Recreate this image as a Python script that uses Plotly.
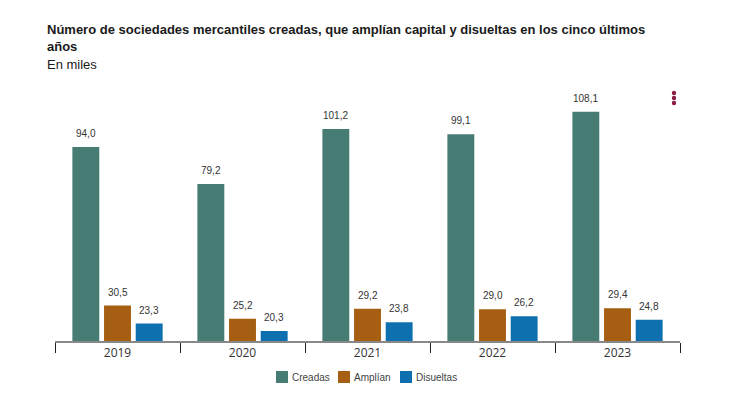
import plotly.graph_objects as go

years = ["2019", "2020", "2021", "2022", "2023"]
creadas = [94.0, 79.2, 101.2, 99.1, 108.1]
amplian = [30.5, 25.2, 29.2, 29.0, 29.4]
disueltas = [23.3, 20.3, 23.8, 26.2, 24.8]

series = [
    ("Creadas", creadas, "#477c74"),
    ("Amplían", amplian, "#a65e12"),
    ("Disueltas", disueltas, "#0f70b0"),
]

W, H = 732, 394
ML, MR, MT, MB = 47, 60, 87, 61
plot_w = W - ML - MR
# screen geometry (page has an 8px offset)
S_LEFT, S_TOP, S_BOT = ML + 8, MT + 8, H - MB + 8
phs = S_BOT - S_TOP

def px(xs):
    return (xs - S_LEFT) / plot_w

def py(ys):
    return (S_BOT - ys) / phs

cat_w = plot_w / len(years)
bargap = 0.24
slot = cat_w * (1 - bargap) / 3
y0 = 16.3
ppu = 2.498

fig = go.Figure()
annotations = []
shapes = []
for i, (name, vals, col) in enumerate(series):
    fig.add_trace(go.Bar(
        x=years, y=vals, name=name, marker_color=col, marker_line_width=0,
        hoverinfo="skip", showlegend=False,
    ))
    for k, v in enumerate(vals):
        annotations.append(dict(
            x=k, y=v, xref="x", yref="y", text=f"{v:.1f}".replace(".", ","),
            showarrow=False, xanchor="center", yanchor="bottom",
            xshift=(i - 1) * slot, yshift=6,
            font=dict(family="Liberation Sans, Arial", size=10, color="#333333"),
        ))

annotations.append(dict(
    xref="paper", yref="paper", x=px(45), y=py(19.5),
    xanchor="left", yanchor="top", showarrow=False, align="left",
    text="<b>Número de sociedades mercantiles creadas, que amplían capital y disueltas en los cinco últimos<br>años</b>",
    font=dict(family="Liberation Sans, Arial", size=13, color="#1a1a1a"),
))
annotations.append(dict(
    xref="paper", yref="paper", x=px(45), y=py(55),
    xanchor="left", yanchor="top", showarrow=False, align="left",
    text="En miles",
    font=dict(family="Liberation Sans, Arial", size=13, color="#1a1a1a"),
))

# custom legend
leg_sq = [276, 338, 400]
for (name, vals, col), sx in zip(series, leg_sq):
    shapes.append(dict(
        type="rect", xref="paper", yref="paper",
        x0=px(sx), x1=px(sx + 12), y0=py(383), y1=py(371),
        fillcolor=col, line_width=0,
    ))
    annotations.append(dict(
        xref="paper", yref="paper", x=px(sx + 14), y=py(377),
        xanchor="left", yanchor="middle", showarrow=False, text=name,
        font=dict(family="Liberation Sans, Arial", size=10, color="#444444"),
    ))

for cy in (93, 98, 103):
    cx, r = 674, 2.2
    shapes.append(dict(
        type="circle", xref="paper", yref="paper",
        x0=px(cx - r), x1=px(cx + r), y0=py(cy + r), y1=py(cy - r),
        fillcolor="#8e1b45", line_width=0,
    ))

fig.update_layout(
    width=W, height=H,
    margin=dict(l=ML, r=MR, t=MT, b=MB),
    barmode="group", bargap=bargap, bargroupgap=0.15,
    plot_bgcolor="white", paper_bgcolor="white",
    font=dict(family="Liberation Sans, Arial", color="#333333"),
    separators=",.",
    showlegend=False,
    annotations=annotations,
    shapes=shapes,
)
fig.update_xaxes(
    type="category", showline=True, linecolor="#888888", linewidth=2,
    ticks="outside", tickson="boundaries", ticklen=10, tickcolor="#222222", tickwidth=1,
    tickfont=dict(family="Open Sans, Liberation Sans", size=12, color="#333333"),
    showgrid=False, range=[-0.5, len(years) - 0.5],
)
fig.update_yaxes(range=[y0, y0 + phs / ppu], visible=False, showgrid=False)

fig.write_html("out.html")
